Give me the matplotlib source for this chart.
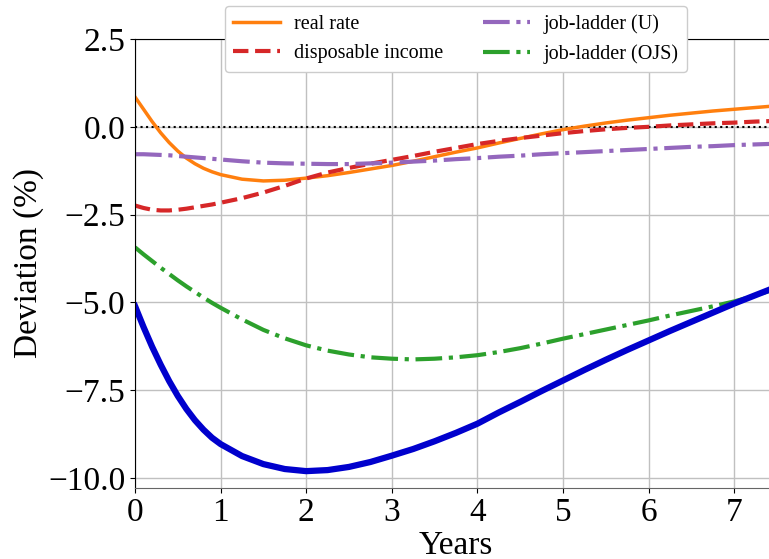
import numpy as np
import matplotlib
matplotlib.use('Agg')
import matplotlib.pyplot as plt

plt.rcParams['font.family'] = ['Liberation Serif', 'DejaVu Serif']

# time axis (years)
years = [0, 0.1, 0.2, 0.3, 0.4, 0.5, 0.6, 0.7, 0.8, 0.9, 1.0,
         1.25, 1.5, 1.75, 2.0, 2.25, 2.5, 2.75, 3.0, 3.25, 3.5, 3.75, 4.0, 4.25,
         4.5, 4.75, 5.0, 5.25, 5.5, 5.75, 6.0, 6.25, 6.5, 6.75, 7.0, 7.25, 7.5]

# deviations (%)
total = [-5.1, -5.7, -6.26, -6.77, -7.24, -7.66, -8.03, -8.35, -8.62, -8.85, -9.03,
         -9.37, -9.6, -9.74, -9.8, -9.77, -9.68, -9.54, -9.36, -9.17, -8.95, -8.71, -8.45, -8.13,
         -7.83, -7.52, -7.22, -6.92, -6.63, -6.35, -6.08, -5.81, -5.55, -5.29, -5.03, -4.79, -4.55]
real_rate = [0.85, 0.5, 0.15, -0.17, -0.45, -0.69, -0.89, -1.05, -1.18, -1.28, -1.36,
             -1.49, -1.54, -1.52, -1.46, -1.39, -1.3, -1.2, -1.1, -0.98, -0.85, -0.72, -0.6, -0.46,
             -0.33, -0.2, -0.08, 0.02, 0.11, 0.19, 0.26, 0.33, 0.39, 0.45, 0.5, 0.55, 0.6]
disp_income = [-2.24, -2.31, -2.36, -2.38, -2.38, -2.36, -2.33, -2.29, -2.25, -2.21, -2.16,
               -2.03, -1.87, -1.68, -1.47, -1.3, -1.17, -1.05, -0.94, -0.83, -0.71, -0.6, -0.49, -0.4,
               -0.32, -0.25, -0.18, -0.12, -0.07, -0.03, 0.0, 0.04, 0.07, 0.1, 0.12, 0.15, 0.17]
ladder_u = [-0.78, -0.78, -0.79, -0.8, -0.81, -0.83, -0.85, -0.87, -0.89, -0.91, -0.93,
            -0.98, -1.02, -1.04, -1.05, -1.06, -1.06, -1.04, -1.02, -0.99, -0.96, -0.92, -0.89, -0.85,
            -0.82, -0.78, -0.75, -0.72, -0.69, -0.66, -0.63, -0.6, -0.57, -0.55, -0.52, -0.5, -0.48]
ladder_ojs = [-3.43, -3.63, -3.82, -4.01, -4.19, -4.37, -4.54, -4.7, -4.86, -5.01, -5.15,
              -5.48, -5.78, -6.02, -6.22, -6.37, -6.48, -6.56, -6.6, -6.62, -6.6, -6.56, -6.5, -6.41,
              -6.3, -6.17, -6.03, -5.9, -5.77, -5.64, -5.51, -5.37, -5.24, -5.11, -4.97, -4.8, -4.6]

fig = plt.figure(figsize=(7.69, 5.59), dpi=100)
ax = fig.add_axes([135 / 769, 71 / 559, 642 / 769, 449 / 559])

ax.axhline(0, color='black', linestyle=':', linewidth=1.5, zorder=1)
ax.plot(years, real_rate, color='#ff7f0e', linewidth=2.5, label='real rate')
ax.plot(years, disp_income, color='#d62728', linestyle='--', linewidth=3, label='disposable income')
ax.plot(years, ladder_u, color='#9467bd', linestyle='-.', linewidth=3, label='job-ladder (U)')
ax.plot(years, ladder_ojs, color='#2ca02c', linestyle='-.', linewidth=3, label='job-ladder (OJS)')
ax.plot(years, total, color='#0000cd', linewidth=4.5)

ax.set_xlim(0, 7.5)
ax.set_ylim(-10.28, 2.5)
ax.set_yticks([2.5, 0.0, -2.5, -5.0, -7.5, -10.0])
ax.set_xticks(range(0, 8))
ax.set_yticklabels(['2.5', '0.0', '\u22122.5', '\u22125.0', '\u22127.5', '\u221210.0'])
ax.tick_params(labelsize=24)
ax.grid(True, color='#c0c0c0', linewidth=1)
ax.set_axisbelow(True)
ax.spines['bottom'].set_color('0.4')
ax.spines['right'].set_visible(False)

ax.set_xlabel('Years', fontsize=24, labelpad=2)
ax.set_ylabel('Deviation (%)', fontsize=24, labelpad=3)

ax.legend(loc='upper center', bbox_to_anchor=(0.593, 0.989), bbox_transform=fig.transFigure,
          borderaxespad=0, ncol=2, fontsize=14.5, handlelength=2.3, handletextpad=0.7,
          framealpha=1)

fig.savefig('out.png', dpi=100)
